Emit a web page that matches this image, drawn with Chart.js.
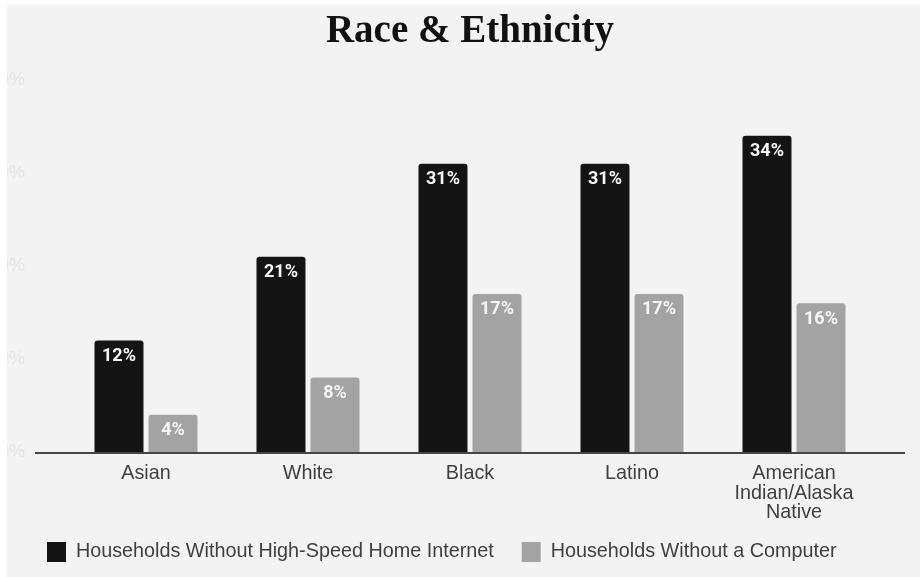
<!DOCTYPE html>
<html>
<head>
<meta charset="utf-8">
<script src="https://cdn.jsdelivr.net/npm/chart.js@4/dist/chart.umd.min.js"></script>
<style>
  html, body { margin: 0; padding: 0; background: #ffffff; }
  #wrap { position: absolute; left: 7px; top: 5px; width: 913px; height: 572px; background: #f3f3f3; }
</style>
</head>
<body>
<div id="wrap"><canvas id="chart"></canvas></div>
<script>
/* ── data ── */
const categories = ['Asian', 'White', 'Black', 'Latino', ['American', 'Indian/Alaska', 'Native']];
const noInternet = [12, 21, 31, 31, 34];
const noComputer = [4, 8, 17, 17, 16];
const yTicks = [0, 10, 20, 30, 40];

const COLORS = {
  black: '#141414',
  gray:  '#a3a3a3',
  text:  '#3f3f3f',
  axis:  '#454545',
};

const SANS = "'Liberation Sans', Arial, sans-serif";

// white value labels inside the top of each bar
const barLabels = {
  id: 'barLabels',
  afterDatasetsDraw(chart) {
    const ctx = chart.ctx;
    ctx.save();
    ctx.font = "bold 18px Roboto, 'Liberation Sans', sans-serif";
    ctx.fillStyle = '#f6f6f6';
    ctx.textAlign = 'center';
    ctx.textBaseline = 'middle';
    chart.data.datasets.forEach((ds, i) => {
      chart.getDatasetMeta(i).data.forEach((bar, j) => {
        ctx.fillText(ds.data[j] + '%', bar.x, bar.y + 16);
      });
    });
    ctx.restore();
  }
};

// baseline running a bit past the plot on both sides
const baseLine = {
  id: 'baseLine',
  afterDatasetsDraw(chart) {
    const { ctx, chartArea, scales } = chart;
    const y = scales.y.getPixelForValue(0) + 1;
    ctx.save();
    ctx.strokeStyle = COLORS.axis;
    ctx.lineWidth = 2;
    ctx.beginPath();
    ctx.moveTo(chartArea.left - 30, y);
    ctx.lineTo(chartArea.right + 30, y);
    ctx.stroke();
    ctx.restore();
  }
};

// nudge the legend: it sits a bit higher / further in than the layout puts it
const legendNudge = {
  id: 'legendNudge',
  afterLayout(chart) {
    const lg = chart.legend;
    if (!lg) return;
    lg.left += 12; lg.right += 12;
    lg.top -= 10; lg.bottom -= 10;
  }
};

new Chart(document.getElementById('chart'), {
  type: 'bar',
  data: {
    labels: categories,
    datasets: [
      { label: 'Households Without High-Speed Home Internet', data: noInternet, backgroundColor: COLORS.black },
      { label: 'Households Without a Computer', data: noComputer, backgroundColor: COLORS.gray },
    ]
  },
  options: {
    responsive: true, maintainAspectRatio: false,
    animation: false,
    layout: { padding: { left: 0, right: 45, top: 0, bottom: -5 } },
    datasets: {
      bar: {
        categoryPercentage: 0.667,
        barPercentage: 0.907,
        borderRadius: 3,
        borderSkipped: 'start',
      }
    },
    plugins: {
      title: {
        display: true,
        text: 'Race & Ethnicity',
        fullSize: false,
        color: '#111111',
        font: { family: "'Liberation Serif', 'Times New Roman', serif", size: 39, weight: 'bold', lineHeight: 1.2 },
        padding: { top: 4, bottom: 24.2 },
      },
      legend: {
        display: true,
        position: 'bottom',
        align: 'start',
        labels: {
          color: COLORS.text,
          font: { family: SANS, size: 19.8 },
          boxWidth: 19,
          boxHeight: 20,
          padding: 28,
        }
      },
      tooltip: { enabled: false },
    },
    scales: {
      x: {
        grid: { display: false, drawTicks: false },
        border: { display: false },
        ticks: {
          color: COLORS.text,
          font: { family: SANS, size: 19.8, lineHeight: '19.5px' },
          padding: 12,
          maxRotation: 0,
          autoSkip: false,
        },
        afterFit(scale) { scale.height = 72; },
      },
      y: {
        min: 0, max: 40,
        afterBuildTicks(scale) { scale.ticks = yTicks.map(v => ({ value: v })); },
        grid: { display: false, drawTicks: false },
        border: { display: false },
        ticks: {
          color: '#e4e4e4',
          font: { family: SANS, size: 18 },
          padding: 40,
          callback: v => v + '%',
        },
        afterFit(scale) { scale.width = 58; },
      }
    }
  },
  plugins: [barLabels, baseLine, legendNudge]
});
</script>
</body>
</html>
